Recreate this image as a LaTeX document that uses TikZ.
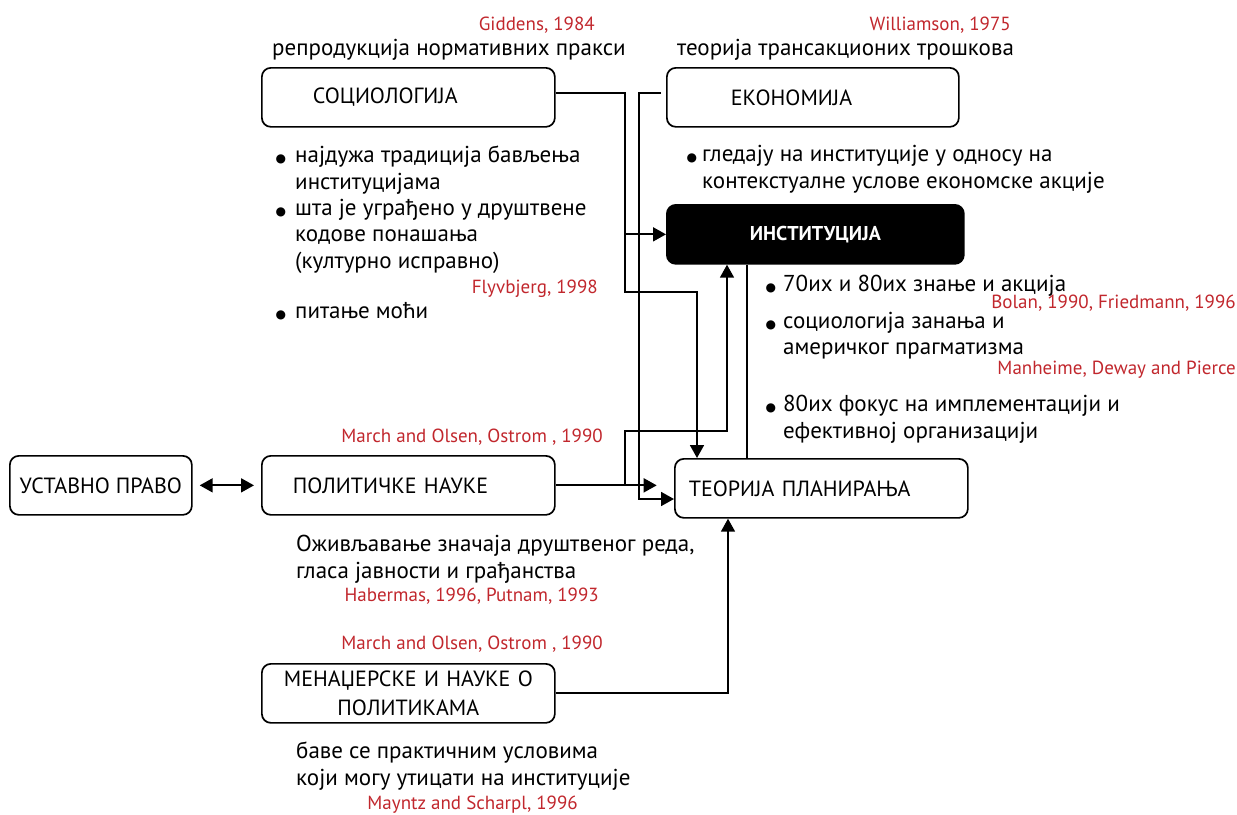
\documentclass[tikz,border=0pt]{standalone}
\usepackage{fontspec}
\setmainfont{PT Sans}
\newfontfamily\symfont{DejaVu Sans}
\usetikzlibrary{arrows.meta,positioning}
\definecolor{citered}{RGB}{193,39,45}
% bullet hanging to the left of a line
\newcommand{\bul}[1][8pt]{\llap{{\symfont\fontsize{12}{12}\selectfont ●}\hspace{#1}}}
\tikzset{
  box/.style={draw, line width=1.7pt, rounded corners=9pt, minimum height=59pt,
    anchor=north west, inner ysep=0pt, font=\fontsize{22}{29}\selectfont},
  txt/.style={anchor=base west, inner sep=0pt, align=left, font=\fontsize{23}{26.3}\selectfont},
  cite/.style={anchor=base east, inner sep=0pt, text=citered, font=\fontsize{19}{22}\selectfont},
  link/.style={line width=1.8pt},
  arr/.style={link, -{Triangle[length=13pt,width=14pt]}},
}
\begin{document}
\begin{tikzpicture}[x=1pt,y=-1pt]
  \useasboundingbox (0,0) rectangle (1237,814);
  % the boxes
  \node[box, inner xsep=51pt, text width=191pt, align=left] (soc) at (261,67) {СОЦИОЛОГИЈА};
  \node[box, inner xsep=64pt, text width=164pt, align=left] (eco) at (666,67) {ЕКОНОМИЈА};
  \node[box, fill=black, text=white, minimum width=297pt,
    font=\bfseries\fontsize{20}{24}\selectfont] (inst) at (666,204) {ИНСТИТУЦИЈА};
  \node[box, minimum width=182pt, inner xsep=2pt] (ust) at (9,455) {УСТАВНО ПРАВО};
  \node[box, inner xsep=31pt, text width=231pt, align=left] (pol) at (261,455) {ПОЛИТИЧКЕ НАУКЕ};
  \node[box, inner xsep=14pt, text width=265pt, align=left] (teo) at (674,458) {ТЕОРИЈА ПЛАНИРАЊА};
  \node[box, inner xsep=8pt, text width=277pt, align=center] (men) at (261,663) {МЕНАЏЕРСКЕ И НАУКЕ О\\ПОЛИТИКАМА};
  % texts over the top boxes
  \node[txt] (repro) at (272,55) {репродукција нормативних пракси};
  \node[cite] (giddens) at (595,30) {Giddens, 1984};
  \node[txt] (trans) at (677,55) {теорија трансакционих трошкова};
  \node[cite] (williamson) at (1011,30) {Williamson, 1975};
  % bullet lists (anchored at the last line)
  \node[txt] (socitems) at (295,268) {\bul[9pt]најдужа традиција бављења\\институцијама\\
    \bul[9pt]шта је уграђено у друштвене\\кодове понашања\\(културно исправно)};
  \node[cite] (flyvbjerg) at (598,293) {Flyvbjerg, 1998};
  \node[txt] (power) at (295,318) {\bul[9pt]питање моћи};
  \node[txt, font=\fontsize{23}{27}\selectfont] (ecoitems) at (702,188) {\bul[5pt]гледају на институције у односу на\\контекстуалне услове економске акције};
  \node[txt] (teoitemA) at (783,291) {\bul[7pt]70их и 80их знање и акција};
  \node[cite] (bolan) at (1236,308) {Bolan, 1990, Friedmann, 1996};
  \node[txt, font=\fontsize{23}{26}\selectfont] (teoitemB) at (783,354) {\bul[7pt]социологија занања и\\америчког прагматизма};
  \node[cite] (manheime) at (1236,374) {Manheime, Deway and Pierce};
  \node[txt, font=\fontsize{23}{27}\selectfont] (teoitemC) at (783,438) {\bul[7pt]80их фокус на имплементацији и\\ефективној организацији};
  % texts round the lower boxes
  \node[cite] (march1) at (603,442) {March and Olsen, Ostrom , 1990};
  \node[txt, font=\fontsize{23}{27}\selectfont] (revive) at (296,578) {Оживљавање значаја друштвеног реда,\\гласа јавности и грађанства};
  \node[cite] (habermas) at (599,601) {Habermas, 1996, Putnam, 1993};
  \node[cite] (march2) at (603,649) {March and Olsen, Ostrom , 1990};
  \node[txt, font=\fontsize{23}{27}\selectfont] (practice) at (296,785) {баве се практичним условима\\који могу утицати на институције};
  \node[cite] (mayntz) at (578,809) {Mayntz and Scharpl, 1996};
  % connectors
  \draw[arr] ([yshift=4pt]soc.east) -| (625,292) -| ([xshift=23pt]teo.north west);
  \draw[arr] (inst.west -| 625,0) -- (inst.west);
  \draw[arr] ([xshift=-5pt,yshift=4pt]eco.west) -| (639,499) -- (teo.west |- 0,499);
  \draw[arr] (pol.east) -- ++(101,0);
  \draw[arr] (pol.east -| 625,0) |- (727,431) -- (inst.south -| 727,0);
  \draw[link] (inst.south -| 747,0) -- (teo.north -| 747,0);
  \draw[arr] (men.east) -| (teo.south -| 728,0);
  \draw[link, {Triangle[length=13pt,width=14pt]}-{Triangle[length=13pt,width=14pt]}]
    ([xshift=7pt]ust.east) -- ([xshift=-7pt]pol.west);
\end{tikzpicture}
\end{document}
